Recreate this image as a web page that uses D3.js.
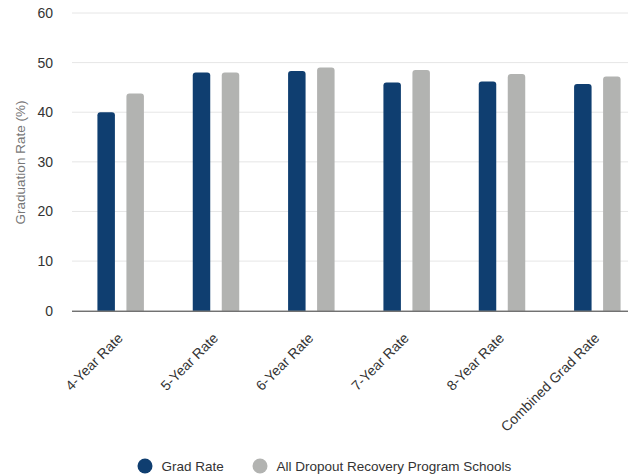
<!DOCTYPE html>
<html>
<head>
<meta charset="utf-8">
<script src="https://cdn.jsdelivr.net/npm/d3@7"></script>
<style>
  html, body { margin: 0; padding: 0; background: #fff; }
  svg { display: block; font-family: "Liberation Sans", Arial, sans-serif; }
</style>
</head>
<body>
<div id="chart"></div>
<script>
var categories = ['4-Year Rate', '5-Year Rate', '6-Year Rate', '7-Year Rate', '8-Year Rate', 'Combined Grad Rate'];
var seriesNames = ['Grad Rate', 'All Dropout Recovery Program Schools'];
var gradRate = [40.0, 48.0, 48.3, 46.0, 46.2, 45.7];
var allSchools = [43.8, 48.0, 49.0, 48.5, 47.7, 47.2];
var yTicks = [0, 10, 20, 30, 40, 50, 60];

var width = 628, height = 476;
var colors = ['#0f3e70', '#b2b3b1'];

var svg = d3.select('#chart').append('svg')
    .attr('width', width)
    .attr('height', height);

// plot is wider than the window, right side gets cut off
var x = d3.scaleBand()
    .domain(categories)
    .range([73, 645]);

var x1 = d3.scaleBand()
    .domain(seriesNames)
    .range([0, x.bandwidth()])
    .paddingInner(0.397)
    .paddingOuter(0.842);

var y = d3.scaleLinear()
    .domain([0, 60])
    .range([310.7, 13]);

// gridlines
svg.append('g')
    .selectAll('line')
    .data(yTicks.filter(function (d) { return d > 0; }))
    .enter().append('line')
    .attr('x1', 72)
    .attr('x2', width)
    .attr('y1', function (d) { return y(d); })
    .attr('y2', function (d) { return y(d); })
    .attr('stroke', '#e6e6e6')
    .attr('stroke-width', 1);

// y tick labels
svg.append('g')
    .selectAll('text')
    .data(yTicks)
    .enter().append('text')
    .attr('x', 53)
    .attr('y', function (d) { return y(d); })
    .attr('dy', '0.35em')
    .attr('text-anchor', 'end')
    .attr('fill', '#333')
    .style('font-size', '14px')
    .text(function (d) { return d; });

// y title
svg.append('text')
    .attr('transform', 'translate(25,' + 162.5 + ') rotate(-90)')
    .attr('text-anchor', 'middle')
    .attr('fill', '#777')
    .style('font-size', '13.5px')
    .text('Graduation Rate (%)');

var rows = categories.map(function (c, i) {
    return { cat: c, values: [gradRate[i], allSchools[i]] };
});

function topRounded(x0, y0, w, h, r) {
    r = Math.min(r, h);
    return 'M' + x0 + ',' + (y0 + h) +
        'V' + (y0 + r) +
        'Q' + x0 + ',' + y0 + ' ' + (x0 + r) + ',' + y0 +
        'H' + (x0 + w - r) +
        'Q' + (x0 + w) + ',' + y0 + ' ' + (x0 + w) + ',' + (y0 + r) +
        'V' + (y0 + h) + 'Z';
}

var groups = svg.append('g')
    .selectAll('g')
    .data(rows)
    .enter().append('g')
    .attr('transform', function (d) { return 'translate(' + x(d.cat) + ',0)'; });

groups.selectAll('path')
    .data(function (d) {
        return d.values.map(function (v, j) { return { name: seriesNames[j], value: v, idx: j }; });
    })
    .enter().append('path')
    .attr('fill', function (d) { return colors[d.idx]; })
    .attr('d', function (d) {
        return topRounded(x1(d.name), y(d.value), x1.bandwidth(), y(0) - y(d.value), 3);
    });

// baseline
svg.append('line')
    .attr('x1', 72)
    .attr('x2', width)
    .attr('y1', y(0) + 0.5)
    .attr('y2', y(0) + 0.5)
    .attr('stroke', '#333')
    .attr('stroke-width', 1);

// x labels
svg.append('g')
    .selectAll('text')
    .data(categories)
    .enter().append('text')
    .attr('transform', function (d) {
        return 'translate(' + (x(d) + x.bandwidth() / 2 + 3) + ',' + 339 + ') rotate(-45)';
    })
    .attr('text-anchor', 'end')
    .attr('fill', '#333')
    .style('font-size', '14px')
    .text(function (d) { return d; });

// legend
var legendX = [145, 260];
var legend = svg.append('g')
    .selectAll('g')
    .data(seriesNames)
    .enter().append('g')
    .attr('transform', function (d, i) { return 'translate(' + legendX[i] + ',466)'; });

legend.append('circle')
    .attr('r', 7.5)
    .attr('fill', function (d, i) { return colors[i]; });

legend.append('text')
    .attr('x', 16.5)
    .attr('dy', '0.35em')
    .attr('fill', '#333')
    .style('font-size', '13.5px')
    .text(function (d) { return d; });
</script>
</body>
</html>
